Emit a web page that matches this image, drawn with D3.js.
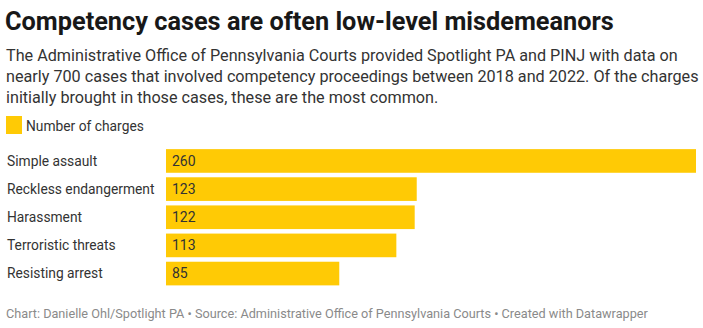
<!DOCTYPE html>
<html>
<head>
<meta charset="utf-8">
<script src="https://cdn.jsdelivr.net/npm/d3@7"></script>
<style>
  body { margin: 0; background: #fff; font-family: Roboto, sans-serif; }
</style>
</head>
<body>
<div id="chart"></div>
<script>
// Chart data
var categories = ["Simple assault", "Reckless endangerment", "Harassment", "Terroristic threats", "Resisting arrest"];
var values = [260, 123, 122, 113, 85];
var seriesName = "Number of charges";

var title = "Competency cases are often low-level misdemeanors";
var subtitle = [
    "The Administrative Office of Pennsylvania Courts provided Spotlight PA and PINJ with data on",
    "nearly 700 cases that involved competency proceedings between 2018 and 2022. Of the charges",
    "initially brought in those cases, these are the most common."
];
var footer = "Chart: Danielle Ohl/Spotlight PA \u2022 Source: Administrative Office of Pennsylvania Courts \u2022 Created with Datawrapper";

var svgWidth = 703;
var svgHeight = 328;
var barColor = "#ffca05";

var svg = d3.select("#chart")
    .append("svg")
    .attr("width", svgWidth)
    .attr("height", svgHeight);

// Title
svg.append("text")
    .attr("x", 5)
    .attr("y", 30)
    .attr("font-size", "25.3px")
    .attr("font-weight", 700)
    .attr("fill", "#181818")
    .text(title);

// Subtitle
svg.selectAll(".sub")
    .data(subtitle)
    .enter()
    .append("text")
    .attr("class", "sub")
    .attr("x", 6)
    .attr("y", (d, i) => 61 + i * 20.8)
    .attr("font-size", "16.2px")
    .attr("fill", "#333")
    .text(d => d);

// Legend
svg.append("rect")
    .attr("x", 6)
    .attr("y", 116)
    .attr("width", 16)
    .attr("height", 18)
    .attr("fill", barColor);

svg.append("text")
    .attr("x", 26)
    .attr("y", 131)
    .attr("font-size", "13.8px")
    .attr("fill", "#333")
    .text(seriesName);

// Scales
var xScale = d3.scaleLinear()
    .domain([0, d3.max(values)])
    .range([166, 696]);

var yScale = d3.scaleBand()
    .domain(categories)
    .range([148, 286.5])
    .paddingInner(0.16)
    .paddingOuter(0.04);

var rows = categories.map((c, i) => ({ cat: c, val: values[i] }));

// Bars
svg.selectAll(".bar")
    .data(rows)
    .enter()
    .append("rect")
    .attr("class", "bar")
    .attr("x", xScale(0))
    .attr("y", d => yScale(d.cat))
    .attr("width", d => xScale(d.val) - xScale(0))
    .attr("height", yScale.bandwidth())
    .attr("fill", barColor);

// Category labels
svg.selectAll(".cat")
    .data(rows)
    .enter()
    .append("text")
    .attr("class", "cat")
    .attr("x", 7)
    .attr("y", d => yScale(d.cat) + yScale.bandwidth() / 2)
    .attr("dy", "0.35em")
    .attr("font-size", "13.8px")
    .attr("fill", "#333")
    .text(d => d.cat);

// Value labels
svg.selectAll(".val")
    .data(rows)
    .enter()
    .append("text")
    .attr("class", "val")
    .attr("x", xScale(0) + 6)
    .attr("y", d => yScale(d.cat) + yScale.bandwidth() / 2)
    .attr("dy", "0.35em")
    .attr("font-size", "14px")
    .attr("fill", "#333")
    .text(d => d.val);

// Footer
svg.append("text")
    .attr("x", 6)
    .attr("y", 318)
    .attr("font-size", "12.7px")
    .attr("fill", "#8a8a8a")
    .text(footer);
</script>
</body>
</html>
